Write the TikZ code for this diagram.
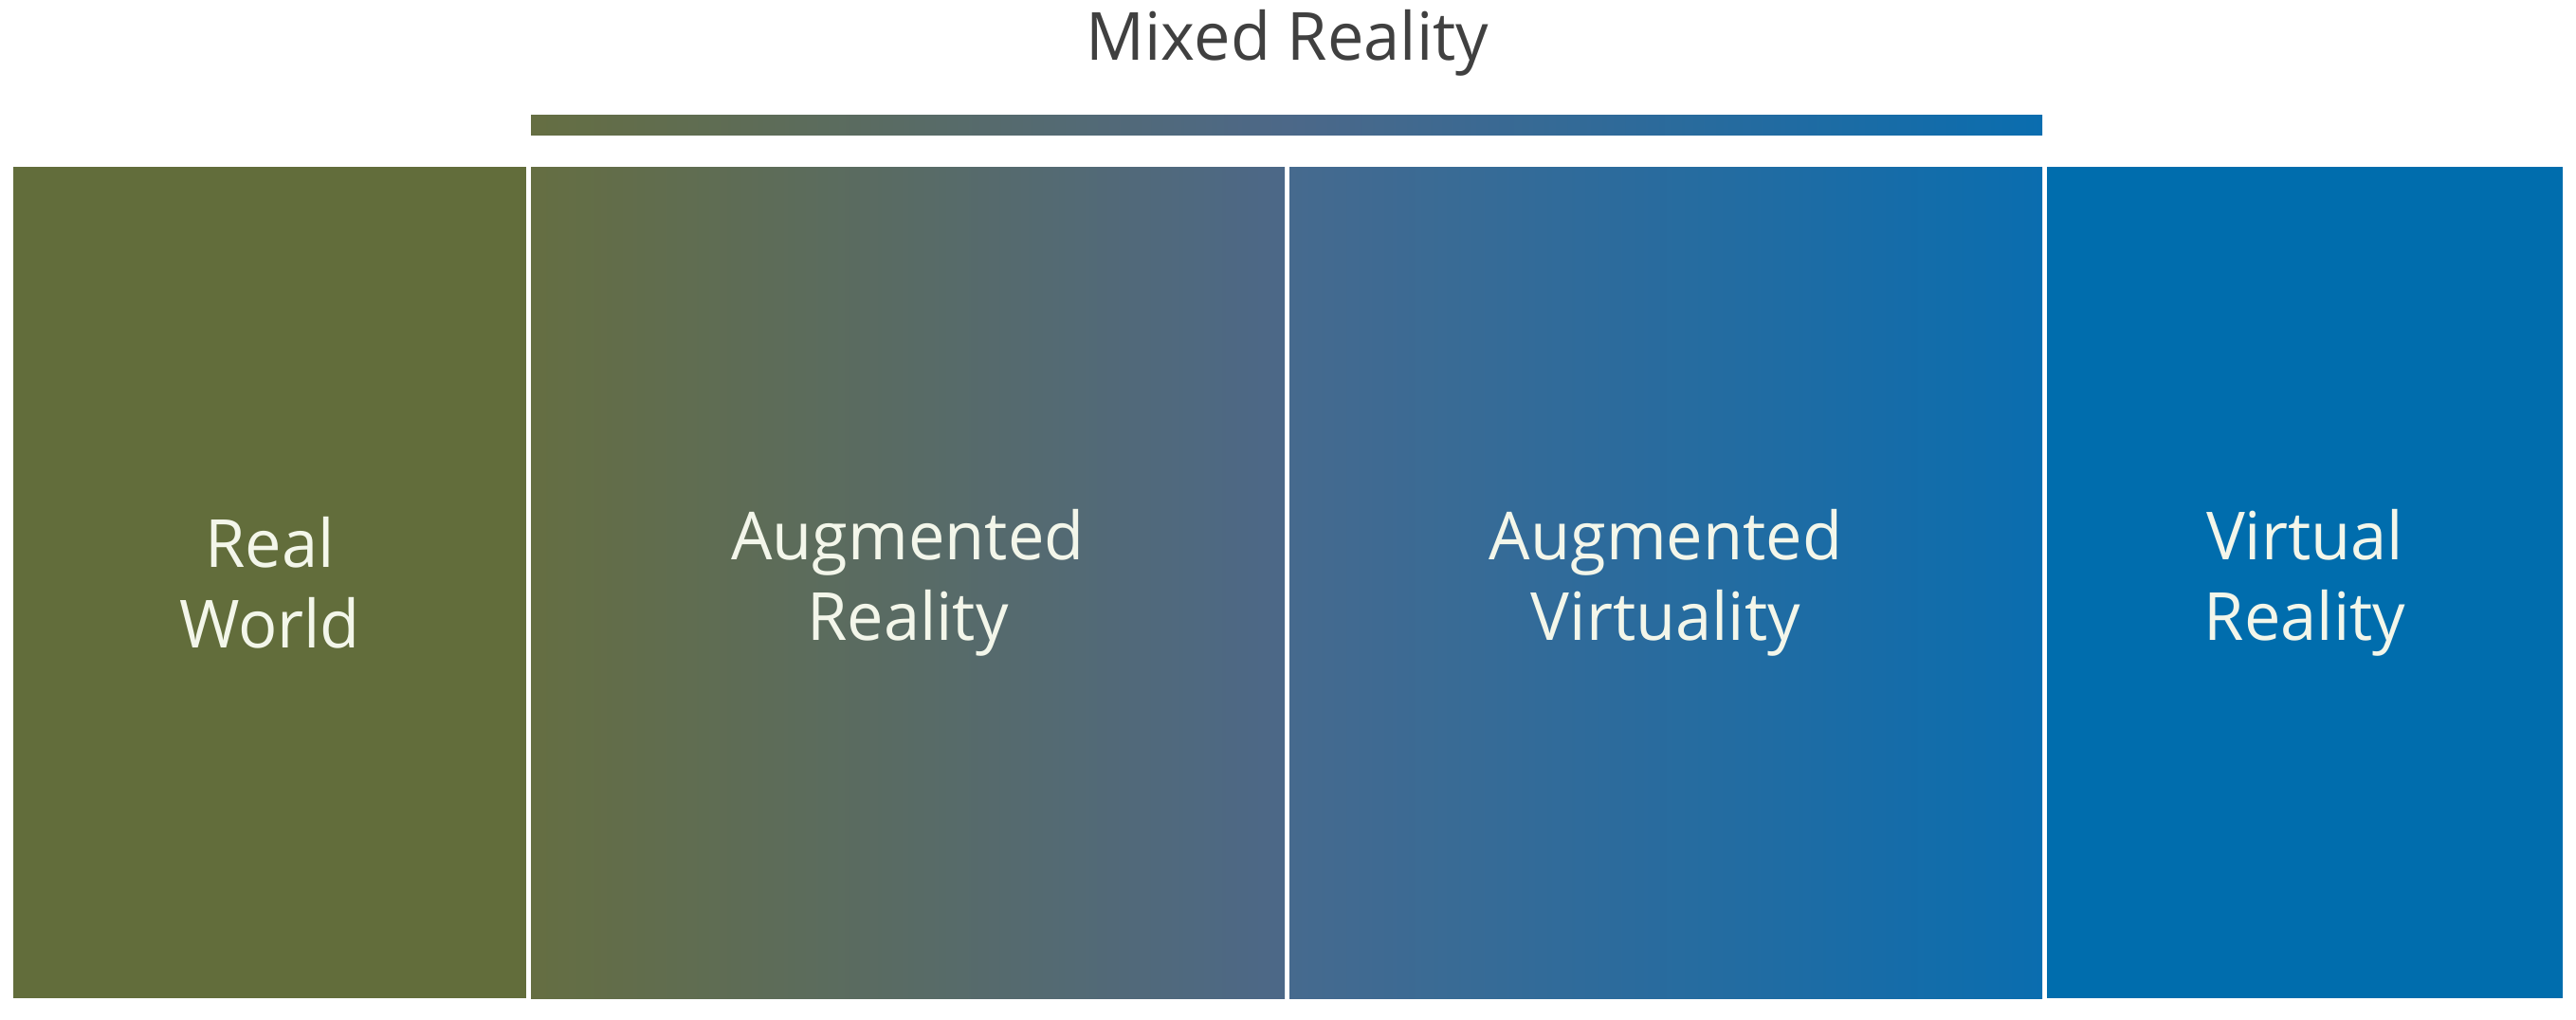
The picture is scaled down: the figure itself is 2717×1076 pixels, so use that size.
\documentclass[tikz,border=0pt]{standalone}
\usepackage{fontspec}
\setmainfont{Open Sans}[FakeStretch=0.98]
\definecolor{rwgreen}{HTML}{626D3B}
\definecolor{arleft}{HTML}{656E42}
\definecolor{armid}{HTML}{4C6888}
\definecolor{avleft}{HTML}{466A8E}
\definecolor{avright}{HTML}{0A6DAF}
\definecolor{vrblue}{HTML}{006DAD}
\definecolor{labeltext}{HTML}{F3F6EA}
\definecolor{titlegray}{HTML}{404040}
\pgfdeclarehorizontalshading{mrbar}{100bp}{%
  color(0bp)=(arleft); color(25bp)=(arleft); color(50bp)=(armid);
  color(75bp)=(avright); color(100bp)=(avright)}
\begin{document}
\begin{tikzpicture}[x=1pt, y=-1pt,
  box/.style={rectangle, inner sep=0pt, minimum height=877pt, align=center,
    text=labeltext, font=\fontsize{70}{85}\selectfont},
  bar/.style={rectangle, inner sep=0pt, minimum height=21pt, shading=mrbar},
  heading/.style={text=titlegray, inner sep=0pt, font=\fontsize{70}{85}\selectfont}]
  \useasboundingbox[fill=white] (0,0) rectangle (2717,1076);
  % the four stages of the continuum
  \node[box, fill=rwgreen, minimum width=541pt] (rw) at (284.5,614.5) {Real\\World};
  \node[box, left color=arleft, right color=armid, minimum width=795pt] (ar) at (957.5,614.5) {Augmented\\Reality};
  \node[box, left color=avleft, right color=avright, minimum width=794pt] (av) at (1757,614.5) {Augmented\\Virtuality};
  \node[box, fill=vrblue, minimum width=544pt] (vr) at (2431,614.5) {Virtual\\Reality};
  % bracket bar over the mixed part
  \node[bar, minimum width=1594pt] (mrbar) at (1357,131.5) {};
  \node[heading, anchor=base] (title) at (1358,63) {Mixed Reality};
\end{tikzpicture}
\end{document}
